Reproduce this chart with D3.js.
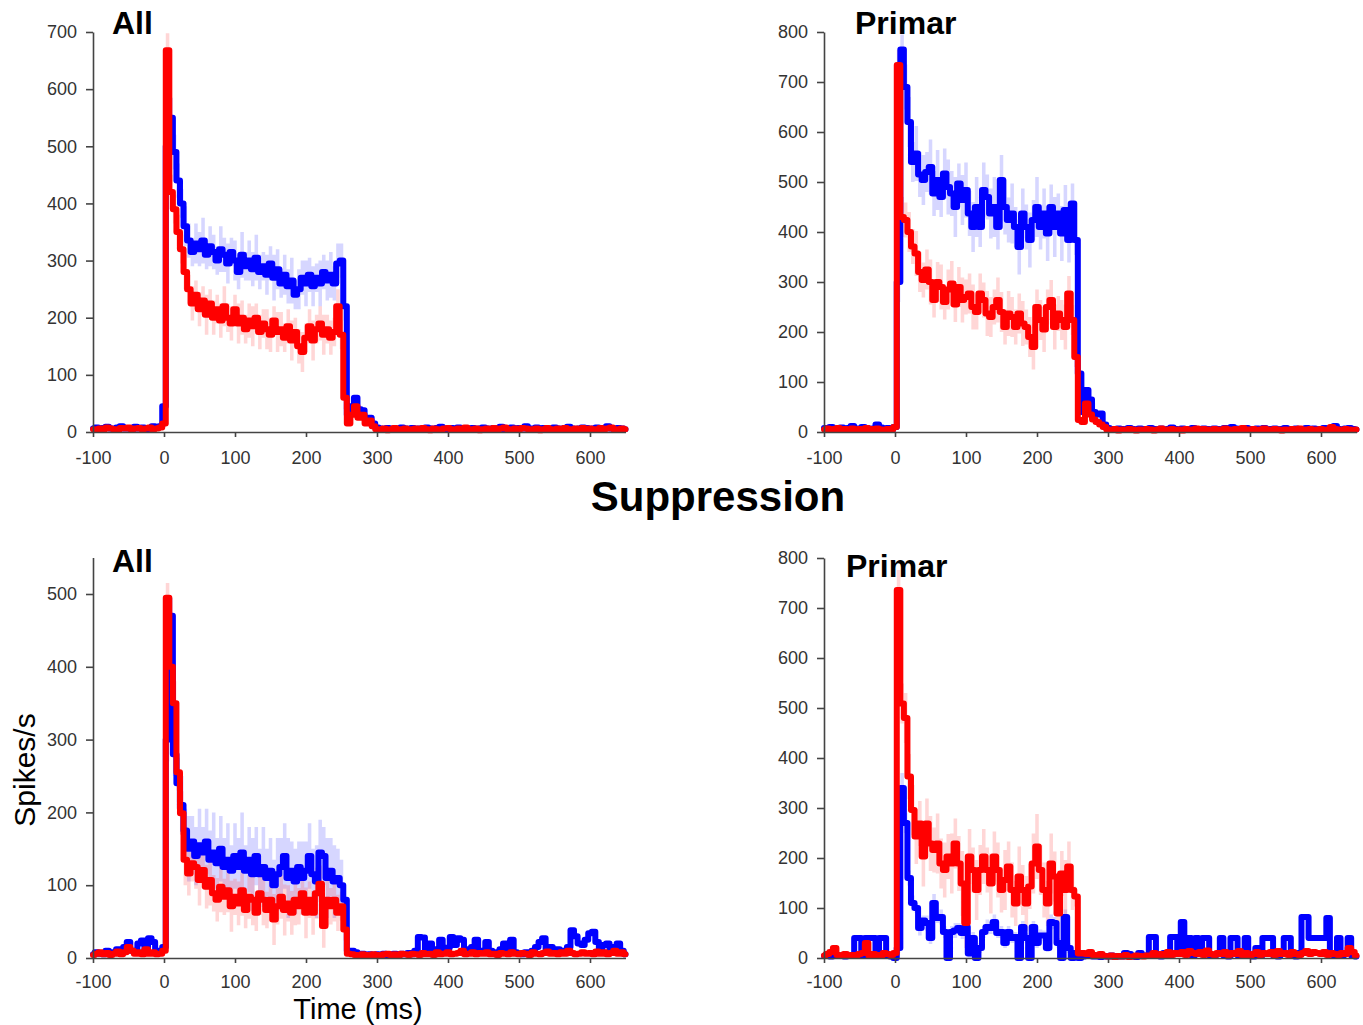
<!DOCTYPE html>
<html>
<head>
<meta charset="utf-8">
<script src="https://cdn.jsdelivr.net/npm/d3@7/dist/d3.min.js"></script>
<style>
  html, body { margin: 0; padding: 0; background: #fff; }
  svg { display: block; font-family: "Liberation Sans", Arial, sans-serif; }
</style>
</head>
<body>
<svg id="chart" width="1363" height="1025"></svg>
<script>
// PSTH traces: firing rate (spikes/s) in 5 ms bins from -100 ms to 650 ms.
const binStart = -100;
const binWidth = 5;
const xTicks = [-100, 0, 100, 200, 300, 400, 500, 600];

// ---- "All", top row ----
const allTopBlue = [
  6, 8, 5, 7, 9, 6, 5, 8, 10, 6,
  7, 5, 9, 6, 8, 5, 7, 10, 8, 10,
  45, 500, 550, 490, 440, 400, 360, 335, 315, 330,
  320, 335, 310, 325, 315, 300, 320, 310, 295, 315,
  300, 280, 310, 290, 300, 285, 305, 280, 290, 275,
  295, 270, 285, 260, 275, 255, 265, 240, 250, 270,
  260, 275, 255, 270, 260, 280, 265, 275, 260, 295,
  300, 220, 30, 45, 60, 40, 38, 25, 25, 15,
  8, 6, 5, 7, 4, 6, 5, 8, 6, 5,
  7, 5, 6, 4, 8, 6, 5, 7, 9, 6,
  5, 7, 6, 8, 5, 6, 4, 7, 5, 6,
  8, 6, 5, 7, 6, 9, 5, 6, 8, 5,
  7, 6, 10, 5, 6, 8, 5, 7, 6, 5,
  8, 6, 5, 7, 9, 6, 5, 6, 8, 7,
  5, 6, 8, 5, 7, 10, 6, 5, 7, 6,
  5
];
const allTopRed = [
  5, 4, 6, 5, 8, 6, 5, 4, 7, 6,
  8, 5, 6, 7, 5, 6, 8, 5, 6, 8,
  15, 668, 420, 390, 350, 320, 280, 250, 225, 240,
  215, 230, 205, 225, 200, 215, 195, 220, 200, 190,
  215, 190, 200, 180, 195, 185, 200, 175, 190, 180,
  170, 195, 175, 180, 165, 185, 160, 175, 150, 140,
  165, 185, 160, 180, 190, 170, 180, 165, 175, 220,
  170, 60, 15, 30, 45, 25, 30, 15, 20, 10,
  5, 4, 6, 3, 5, 7, 4, 5, 6, 4,
  5, 6, 4, 7, 5, 3, 6, 5, 4, 6,
  7, 5, 4, 6, 5, 8, 4, 5, 6, 3,
  5, 6, 4, 7, 5, 6, 8, 5, 4, 6,
  5, 7, 6, 4, 5, 6, 3, 5, 7, 5,
  4, 6, 5, 7, 5, 4, 6, 5, 7, 4,
  6, 5, 4, 7, 5, 6, 8, 5, 4, 6,
  5
];

// ---- "Primar", top row ----
const primTopBlue = [
  8, 6, 10, 7, 5, 9, 6, 8, 12, 7,
  6, 10, 8, 5, 7, 15, 9, 6, 8, 5,
  10, 300, 765, 690, 620, 540, 557, 515, 504, 520,
  530, 477, 504, 470, 517, 490, 477, 450, 497, 464,
  484, 437, 410, 450, 410, 484, 470, 437, 450, 410,
  504, 450, 424, 437, 410, 370, 437, 410, 384, 424,
  450, 410, 437, 397, 450, 410, 437, 397, 444, 384,
  457, 384, 117, 40, 84, 65, 40, 35, 37, 15,
  8, 6, 5, 7, 6, 4, 8, 6, 5, 7,
  6, 5, 8, 6, 4, 7, 5, 6, 9, 6,
  5, 7, 6, 4, 8, 6, 5, 7, 6, 5,
  7, 6, 5, 8, 6, 10, 7, 5, 6, 8,
  6, 5, 7, 6, 8, 5, 6, 7, 5, 6,
  8, 6, 5, 7, 6, 5, 8, 6, 7, 5,
  6, 8, 5, 7, 12, 6, 5, 7, 8, 6,
  5
];
const primTopRed = [
  5, 7, 4, 6, 8, 5, 6, 4, 7, 5,
  6, 4, 8, 5, 6, 7, 5, 4, 6, 5,
  10, 734, 430, 424, 400, 371, 357, 320, 304, 325,
  300, 264, 300, 290, 260, 285, 297, 255, 290, 264,
  270, 277, 250, 240, 277, 264, 237, 230, 250, 264,
  240, 210, 237, 230, 210, 237, 217, 210, 190, 170,
  250, 224, 205, 250, 264, 210, 237, 224, 210, 277,
  224, 150, 24, 20, 57, 35, 25, 20, 15, 10,
  5, 4, 6, 3, 5, 4, 6, 5, 3, 5,
  4, 6, 5, 3, 5, 7, 4, 5, 6, 4,
  5, 3, 6, 4, 5, 7, 4, 6, 5, 4,
  6, 5, 4, 7, 5, 4, 6, 5, 8, 4,
  5, 6, 4, 5, 7, 5, 4, 6, 5, 3,
  5, 4, 6, 5, 7, 4, 5, 6, 4, 5,
  6, 4, 5, 10, 6, 5, 4, 6, 5, 4,
  5
];

// ---- "All", bottom row ----
const allBotBlue = [
  5, 8, 6, 5, 10, 6, 8, 12, 8, 15,
  22, 10, 8, 20, 24, 10, 27, 22, 8, 10,
  15, 300, 470, 280, 240, 210, 175, 150, 160, 140,
  155, 145, 160, 135, 145, 130, 150, 125, 135, 120,
  140, 125, 145, 120, 135, 115, 140, 115, 125, 110,
  120, 100, 115, 125, 140, 110, 120, 105, 125, 110,
  120, 140, 115, 105, 145, 140, 110, 120, 105, 110,
  100, 80, 10, 10, 8, 5, 6, 4, 5, 3,
  5, 4, 6, 4, 5, 6, 4, 6, 5, 7,
  5, 10, 29, 28, 8, 20, 8, 12, 25, 10,
  14, 29, 18, 27, 25, 12, 10, 15, 25, 10,
  8, 22, 10, 6, 8, 12, 20, 8, 25, 8,
  6, 5, 8, 6, 10, 15, 22, 27, 10, 15,
  8, 12, 8, 10, 15, 38, 30, 20, 18, 25,
  34, 36, 22, 12, 18, 20, 10, 15, 20, 10,
  5
];
const allBotRed = [
  4, 6, 8, 5, 7, 4, 6, 9, 5, 8,
  15, 10, 6, 8, 5, 12, 6, 8, 5, 6,
  10, 495, 400, 350, 255, 199, 135, 116, 130, 125,
  107, 121, 98, 107, 89, 80, 98, 84, 93, 71,
  84, 75, 93, 66, 84, 80, 62, 89, 80, 66,
  80, 53, 71, 84, 66, 75, 62, 80, 71, 89,
  62, 80, 62, 89, 102, 44, 80, 71, 80, 62,
  71, 39, 6, 5, 4, 3, 5, 4, 3, 5,
  4, 3, 5, 6, 4, 5, 3, 6, 5, 4,
  6, 5, 4, 7, 5, 6, 4, 8, 5, 6,
  8, 5, 6, 7, 10, 5, 6, 8, 5, 7,
  6, 8, 5, 6, 4, 7, 6, 5, 8, 6,
  5, 7, 6, 4, 8, 6, 5, 7, 9, 6,
  7, 5, 8, 6, 10, 7, 5, 6, 8, 6,
  7, 5, 9, 6, 8, 5, 7, 10, 6, 8,
  5
];

// ---- "Primar", bottom row ----
const primBotBlue = [
  4, 5, 3, 6, 4, 5, 3, 4, 5, 40,
  40, 5, 40, 40, 40, 5, 40, 40, 4, 3,
  0, 20, 340, 270, 160, 110, 100, 60, 75, 70,
  40, 110, 80, 82, 52, 0, 52, 55, 60, 50,
  62, 9, 40, 0, 20, 52, 62, 60, 72, 50,
  52, 30, 52, 40, 42, 0, 62, 40, 0, 62,
  30, 45, 45, 20, 72, 70, 30, 0, 82, 20,
  0, 10, 0, 3, 5, 4, 3, 5, 2, 4,
  3, 5, 2, 4, 3, 10, 8, 3, 2, 10,
  5, 5, 42, 42, 5, 3, 10, 8, 42, 42,
  10, 72, 20, 40, 5, 40, 10, 40, 40, 5,
  5, 8, 40, 5, 3, 40, 40, 5, 8, 40,
  5, 3, 20, 5, 40, 40, 40, 5, 3, 8,
  40, 40, 5, 3, 10, 82, 82, 40, 40, 40,
  40, 40, 80, 8, 5, 40, 5, 10, 40, 5,
  3
];
const primBotRed = [
  5, 8, 12, 20, 6, 4, 8, 5, 6, 4,
  8, 10, 30, 5, 8, 6, 4, 10, 8, 6,
  10, 736, 509, 480, 363, 296, 243, 269, 203, 269,
  229, 216, 229, 189, 176, 203, 189, 229, 189, 149,
  70, 203, 176, 136, 176, 203, 176, 149, 203, 176,
  136, 156, 183, 136, 109, 163, 136, 109, 143, 189,
  223, 176, 136, 109, 189, 163, 89, 169, 136, 183,
  136, 123, 9, 10, 8, 12, 6, 5, 8, 4,
  3, 5, 2, 4, 3, 6, 2, 3, 5, 4,
  3, 5, 4, 10, 6, 8, 5, 12, 6, 10,
  8, 12, 6, 14, 10, 8, 12, 6, 15, 8,
  6, 10, 8, 12, 6, 10, 8, 14, 6, 10,
  4, 8, 12, 6, 10, 8, 12, 6, 14, 8,
  10, 6, 12, 8, 6, 10, 14, 8, 12, 10,
  8, 12, 6, 10, 8, 6, 10, 8, 20, 12,
  5
];

// Standard-error half-widths during the stimulus (bins 0..255 ms).
const semAllTopBlue = [
  5, 40, 35, 30, 30, 25, 35, 30, 25, 35,
  30, 40, 25, 35, 30, 25, 40, 30, 35, 25,
  35, 30, 40, 25, 35, 30, 40, 30, 25, 35,
  30, 40, 35, 25, 35, 30, 40, 25, 35, 30,
  40, 30, 35, 25, 40, 30, 35, 40, 30, 35,
  30, 25
];
const semAllTopRed = [
  5, 30, 30, 25, 30, 25, 30, 25, 30, 25,
  30, 25, 35, 25, 30, 25, 30, 35, 25, 30,
  25, 35, 30, 25, 30, 35, 25, 30, 25, 35,
  30, 25, 35, 30, 25, 30, 35, 25, 30, 35,
  25, 30, 35, 25, 30, 35, 25, 30, 25, 30,
  25, 20
];
const semPrimTopBlue = [
  5, 40, 30, 45, 50, 40, 55, 45, 50, 40,
  55, 45, 60, 40, 50, 55, 45, 60, 40, 50,
  55, 45, 50, 60, 40, 55, 45, 50, 60, 45,
  50, 55, 45, 60, 40, 55, 50, 45, 55, 40,
  60, 45, 50, 55, 45, 60, 40, 55, 50, 45,
  40, 30
];
const semPrimTopRed = [
  5, 30, 40, 35, 40, 35, 45, 40, 35, 40,
  45, 35, 40, 45, 35, 40, 45, 35, 40, 45,
  35, 40, 45, 35, 40, 35, 45, 40, 35, 45,
  40, 35, 45, 40, 35, 40, 45, 35, 40, 45,
  35, 40, 45, 35, 40, 45, 35, 40, 45, 35,
  30, 20
];
const semAllBotBlue = [
  5, 30, 25, 30, 35, 40, 30, 45, 35, 40,
  50, 35, 45, 40, 55, 35, 45, 40, 50, 35,
  45, 40, 55, 35, 45, 50, 40, 35, 55, 40,
  45, 35, 50, 40, 45, 55, 40, 45, 35, 50,
  40, 45, 35, 50, 45, 40, 55, 45, 50, 40,
  35, 20
];
const semAllBotRed = [
  5, 20, 25, 30, 25, 30, 35, 30, 25, 30,
  35, 25, 30, 35, 25, 30, 35, 25, 30, 35,
  25, 30, 35, 25, 30, 35, 25, 30, 35, 25,
  30, 35, 25, 30, 35, 25, 30, 35, 25, 30,
  35, 25, 30, 35, 25, 30, 35, 25, 30, 25,
  20, 15
];
const semPrimBotBlue = [
  0, 10, 30, 20, 15, 15, 10, 15, 10, 15,
  12, 18, 10, 15, 12, 8, 12, 15, 10, 12,
  15, 8, 12, 8, 10, 12, 15, 12, 15, 10,
  12, 10, 12, 10, 10, 8, 12, 10, 8, 12,
  10, 12, 10, 8, 15, 12, 10, 8, 15, 10,
  5, 5
];
const semPrimBotRed = [
  5, 40, 40, 50, 45, 50, 55, 45, 60, 50,
  55, 45, 60, 50, 55, 45, 60, 50, 55, 65,
  50, 55, 45, 60, 50, 55, 45, 60, 50, 55,
  45, 60, 50, 55, 45, 60, 50, 55, 45, 60,
  65, 50, 55, 45, 60, 50, 55, 45, 60, 50,
  40, 20
];

const panels = [
  { title: "All", tx: 112, ty: 34, left: 93, bottom: 432, yMax: 700, yTicks: d3.range(0, 701, 100), pxPerUnit: 400 / 700, pad: 14,
    blue: allTopBlue, red: allTopRed, semBlue: semAllTopBlue, semRed: semAllTopRed },
  { title: "Primar", tx: 855, ty: 34, left: 824, bottom: 432, yMax: 800, yTicks: d3.range(0, 801, 100), pxPerUnit: 0.5, pad: 14,
    blue: primTopBlue, red: primTopRed, semBlue: semPrimTopBlue, semRed: semPrimTopRed },
  { title: "All", tx: 112, ty: 572, left: 93, bottom: 958, yMax: 550, yTicks: d3.range(0, 501, 100), pxPerUnit: 0.728, pad: 12,
    blue: allBotBlue, red: allBotRed, semBlue: semAllBotBlue, semRed: semAllBotRed },
  { title: "Primar", tx: 846, ty: 577, left: 824, bottom: 958, yMax: 800, yTicks: d3.range(0, 801, 100), pxPerUnit: 0.5, pad: 12,
    blue: primBotBlue, red: primBotRed, semBlue: semPrimBotBlue, semRed: semPrimBotRed }
];

const svg = d3.select("#chart");
const pxPerMs = 0.71;
const xMin = -100, xMax = 650;

panels.forEach(p => {
  const x = d3.scaleLinear().domain([xMin, xMax]).range([p.left, p.left + (xMax - xMin) * pxPerMs]);
  const y = d3.scaleLinear().domain([0, p.yMax]).range([p.bottom, p.bottom - p.yMax * p.pxPerUnit]);
  const g = svg.append("g");

  const toPoints = arr => arr.map((v, i) => ({ t: binStart + i * binWidth, v }));
  const toBand = (mean, sem) => sem.map((s, i) => {
    const t = i * binWidth;
    const m = mean[(t - binStart) / binWidth];
    return { t, lo: Math.max(0, m - s), hi: m + s };
  });

  const area = d3.area().curve(d3.curveStep).x(d => x(d.t)).y0(d => y(d.lo)).y1(d => y(d.hi));
  const line = d3.line().curve(d3.curveStep).x(d => x(d.t)).y(d => y(d.v));

  // error bands
  g.append("path").datum(toBand(p.blue, p.semBlue)).attr("d", area)
    .attr("fill", "rgba(70,70,255,0.22)");
  g.append("path").datum(toBand(p.red, p.semRed)).attr("d", area)
    .attr("fill", "rgba(255,70,70,0.22)");

  // mean traces
  g.append("path").datum(toPoints(p.blue)).attr("d", line)
    .attr("fill", "none").attr("stroke", "#0000ff").attr("stroke-width", 6)
    .attr("stroke-linejoin", "round").attr("stroke-linecap", "round");
  g.append("path").datum(toPoints(p.red)).attr("d", line)
    .attr("fill", "none").attr("stroke", "#ff0000").attr("stroke-width", 6)
    .attr("stroke-linejoin", "round").attr("stroke-linecap", "round");

  // axes
  const yAxis = g.append("g").attr("transform", `translate(${p.left},0)`)
    .call(d3.axisLeft(y).tickValues(p.yTicks).tickFormat(d => String(d))
      .tickSize(7).tickPadding(9).tickSizeOuter(0));
  const xAxis = g.append("g").attr("transform", `translate(0,${p.bottom})`)
    .call(d3.axisBottom(x).tickValues(xTicks).tickFormat(d => String(d))
      .tickSize(5).tickPadding(p.pad).tickSizeOuter(0));
  [yAxis, xAxis].forEach(a => {
    a.select(".domain").attr("stroke", "#444").attr("stroke-width", 1.6);
    a.selectAll(".tick line").attr("stroke", "#444").attr("stroke-width", 1.6);
    a.selectAll(".tick text").attr("fill", "#333").style("font-size", "18px")
      .style("font-family", "'Liberation Sans', Arial, sans-serif");
  });

  g.append("text").attr("x", p.tx).attr("y", p.ty).text(p.title)
    .style("font-size", "32px").style("font-weight", "bold").attr("fill", "#000");
});

svg.append("text").attr("x", 718).attr("y", 511).attr("text-anchor", "middle")
  .text("Suppression").style("font-size", "42px").style("font-weight", "bold");

svg.append("text").attr("transform", "translate(35,770) rotate(-90)").attr("text-anchor", "middle")
  .text("Spikes/s").style("font-size", "30px").attr("fill", "#000");

svg.append("text").attr("x", 358).attr("y", 1018.5).attr("text-anchor", "middle")
  .text("Time (ms)").style("font-size", "29px").attr("fill", "#000");
</script>
</body>
</html>
